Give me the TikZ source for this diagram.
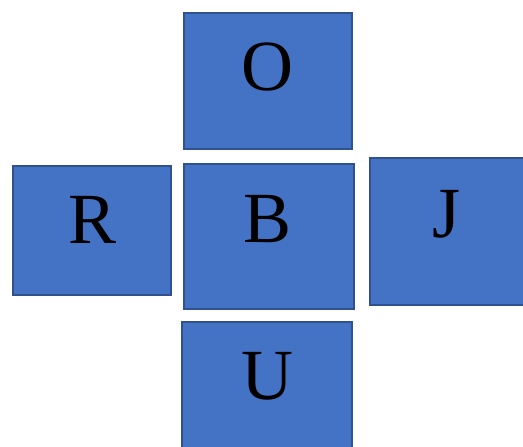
\documentclass[tikz,border=0pt]{standalone}
\usepackage{fontspec}
\setmainfont{Liberation Serif}
\definecolor{tilefill}{HTML}{4472C4}
\definecolor{tileedge}{HTML}{2F528F}
\begin{document}
\begin{tikzpicture}[
  x=1pt, y=-1pt,
  tile/.style={draw=tileedge, fill=tilefill, line width=2pt, inner sep=0pt},
  letter/.style={font=\fontsize{72}{72}\selectfont, text=black}
]
  \useasboundingbox (0,0) rectangle (523,447);
  \clip (0,0) rectangle (523,447);
  \node[tile, minimum width=168pt, minimum height=136pt,
        label={[letter, yshift=14pt, xshift=-1pt]center:O}] (top) at (268,81) {};
  \node[tile, minimum width=158pt, minimum height=129pt,
        label={[letter, yshift=10.5pt, xshift=1pt]center:R}] (left) at (92,230.5) {};
  \node[tile, minimum width=170pt, minimum height=145pt,
        label={[letter, yshift=17.5pt, xshift=-1pt]center:B}] (mid) at (269,236.5) {};
  \node[tile, minimum width=168pt, minimum height=147pt,
        label={[letter, yshift=17.5pt, xshift=-7pt]center:J}] (right) at (454,231.5) {};
  \node[tile, minimum width=170pt, minimum height=136pt,
        label={[letter, yshift=14pt]center:U}] (bottom) at (267,390) {};
\end{tikzpicture}
\end{document}
